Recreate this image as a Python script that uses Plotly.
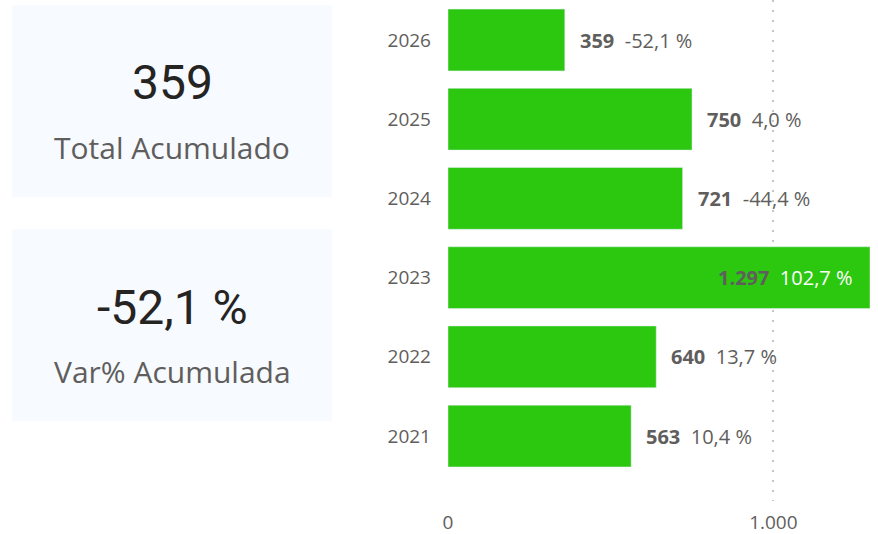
import plotly.graph_objects as go

# data
years = ["2021", "2022", "2023", "2024", "2025", "2026"]
totals = [563, 640, 1297, 721, 750, 359]
var_pct = ["10,4 %", "13,7 %", "102,7 %", "-44,4 %", "4,0 %", "-52,1 %"]
total_labels = ["563", "640", "1.297", "721", "750", "359"]
kpi_values = ["359", "-52,1 %"]
kpi_titles = ["Total Acumulado", "Var% Acumulada"]

W, H = 878, 534
ML, MR, MT, MB = 448, 8, 0, 33
PW = W - ML - MR
PH = H - MT - MB

GREEN = "#2BC80F"
GREY = "#605E5C"
FONT = "Open Sans, Noto Sans, sans-serif"


def px_x(px):
    return (px - ML) / PW


def px_y(py):
    return 1 - (py - MT) / PH


fig = go.Figure()
fig.add_trace(go.Bar(
    x=totals, y=years, orientation="h",
    marker_color=GREEN, width=0.78,
    hoverinfo="skip",
))

# labels next to / inside bars (y given as category index)
for i, (v, lab, p) in enumerate(zip(totals, total_labels, var_pct)):
    inside = v == max(totals)
    pc = "white" if inside else GREY
    fig.add_annotation(
        x=v, y=i, xref="x", yref="y",
        text=f"<b>{lab}</b>  <span style='color:{pc}'>{p}</span>",
        showarrow=False,
        xanchor="right" if inside else "left",
        xshift=-15 if inside else 13,
        font=dict(family=FONT, size=20, color=GREY),
    )

# KPI cards
cards = [(5, 197), (229, 421)]
for (top, bot), val, title in zip(cards, kpi_values, kpi_titles):
    fig.add_shape(
        type="rect", xref="paper", yref="paper",
        x0=px_x(12), x1=px_x(332), y0=px_y(bot), y1=px_y(top),
        fillcolor="#F7FAFE", line_width=0, layer="below",
    )
    fig.add_annotation(
        x=px_x(172), y=px_y(top + 78), xref="paper", yref="paper",
        text=val, showarrow=False, xanchor="center", yanchor="middle",
        font=dict(family="Roboto, sans-serif", size=48, color="#252423"),
    )
    fig.add_annotation(
        x=px_x(172), y=px_y(top + 142), xref="paper", yref="paper",
        text=title, showarrow=False, xanchor="center", yanchor="middle",
        font=dict(family=FONT, size=30, color=GREY),
    )

fig.update_xaxes(
    range=[0, 1297], tickvals=[0, 1000], ticktext=["0", "1.000"],
    showgrid=True, gridcolor="#C8C6C4", griddash="2px,8px", gridwidth=1.5,
    zeroline=False, showline=False, ticks="", ticklabelstandoff=8,
    tickfont=dict(family=FONT, size=19, color=GREY),
    fixedrange=True,
)
fig.update_yaxes(
    type="category", categoryorder="array", categoryarray=years,
    range=[-0.82, 5.505], showgrid=False, zeroline=False, showline=False,
    ticks="", ticklabelstandoff=16,
    tickfont=dict(family=FONT, size=19, color=GREY),
    fixedrange=True,
)
fig.update_layout(
    width=W, height=H,
    margin=dict(l=ML, r=MR, t=MT, b=MB),
    plot_bgcolor="white", paper_bgcolor="white",
    showlegend=False,
)

fig.write_html(
    "out.html",
    config={"displayModeBar": False},
    post_script="document.body.style.margin='0';document.body.style.overflow='hidden';",
)
